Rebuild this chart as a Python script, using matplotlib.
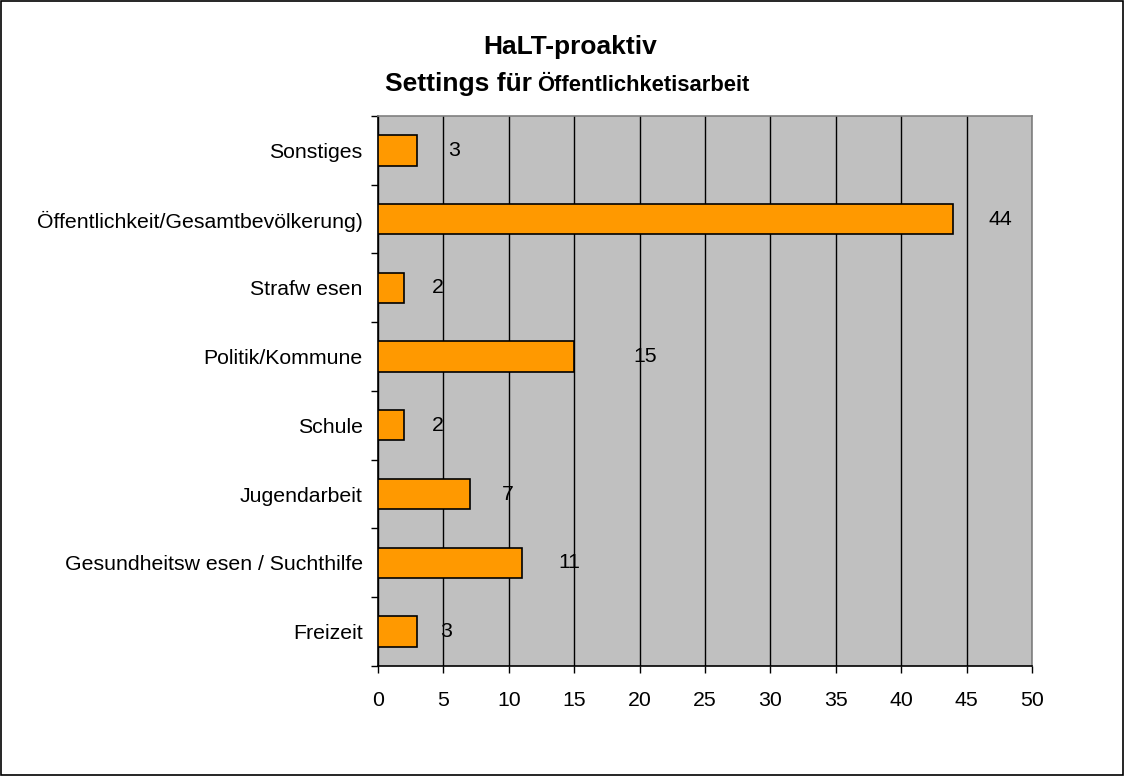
import numpy as np
import matplotlib.pyplot as plt
from matplotlib.patches import Rectangle

plt.rcParams['font.family'] = ['Liberation Sans', 'DejaVu Sans']

# Daten (von unten nach oben)
kategorien = ['Freizeit', 'Gesundheitsw esen / Suchthilfe', 'Jugendarbeit', 'Schule',
              'Politik/Kommune', 'Strafw esen', 'Öffentlichkeit/Gesamtbevölkerung)', 'Sonstiges']
werte = [3, 11, 7, 2, 15, 2, 44, 3]
label_versatz = [2.2, 3.6, 2.9, 2.6, 5.4, 2.6, 3.6, 2.8]  # Abstand Zahl zum Balken
xticks = [0, 5, 10, 15, 20, 25, 30, 35, 40, 45, 50]

fs = 15.3
fig = plt.figure(figsize=(11.24, 7.76), dpi=100)
ax = fig.add_axes([0.3363, 0.1418, 0.5818, 0.7087])
ax.set_facecolor('#C0C0C0')

y = np.arange(len(kategorien))
ax.barh(y, werte, height=0.44, color='#FF9900', edgecolor='black', linewidth=1.2, zorder=3)
for i, v in enumerate(werte):
    ax.text(v + label_versatz[i], y[i], str(v), va='center', ha='center', fontsize=fs, zorder=4)

ax.set_xlim(0, 50)
ax.set_ylim(-0.5, len(kategorien) - 0.5)
ax.set_xticks(xticks)
ax.set_xticklabels([str(t) for t in xticks], fontsize=fs)
ax.set_yticks(y)
ax.set_yticklabels(kategorien, fontsize=fs)
ax.set_yticks(np.arange(-0.5, len(kategorien), 1), minor=True)
ax.tick_params(axis='y', which='major', length=0, pad=11)
ax.tick_params(axis='y', which='minor', length=5, width=1, direction='out')
ax.tick_params(axis='x', length=5, width=1, direction='out', pad=13)
ax.xaxis.grid(True, color='black', linewidth=1, zorder=1)
ax.set_axisbelow(True)

ax.spines['left'].set_color('black')
ax.spines['bottom'].set_color('black')
ax.spines['top'].set_color('#808080')
ax.spines['right'].set_color('#808080')
for s in ax.spines.values():
    s.set_linewidth(1.2)

fig.text(0.507, 0.940, 'HaLT-proaktiv', ha='center', va='center', fontsize=19, fontweight='bold')
fig.text(0.4733, 0.892, 'Settings für', ha='right', va='center', fontsize=19, fontweight='bold')
fig.text(0.4778, 0.890, 'Öffentlichketisarbeit', ha='left', va='center', fontsize=15.8, fontweight='bold')

fig.patches.append(Rectangle((0.001, 0.001), 0.998, 0.998, transform=fig.transFigure,
                             fill=False, edgecolor='black', linewidth=1.2))

fig.savefig('out.png', dpi=100)
